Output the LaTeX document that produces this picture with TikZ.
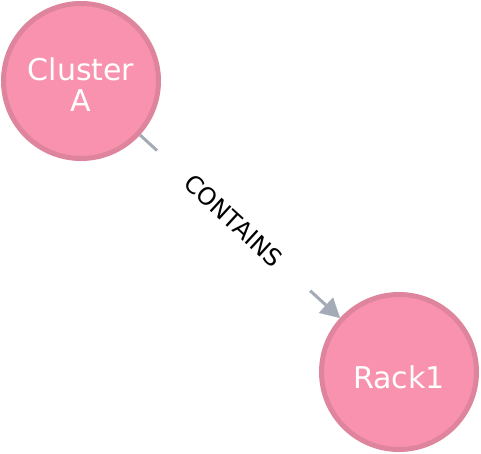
\documentclass[tikz,border=0pt]{standalone}
\usepackage{fontspec}
\setmainfont{DejaVu Sans}
\usetikzlibrary{arrows.meta, positioning}

\definecolor{nodepink}{HTML}{F992AE}
\definecolor{nodering}{HTML}{DF849D}
\definecolor{relgrey}{HTML}{A5ABB6}

\begin{document}
\begin{tikzpicture}[x=1pt, y=-1pt,
    entity/.style = {circle, fill=nodepink, draw=nodering, line width=5pt,
      minimum size=155pt, inner sep=0pt},
    entitytext/.style = {align=center, text=white, inner sep=0pt,
      font=\fontsize{30}{31}\selectfont},
    rel/.style = {color=relgrey, line width=3pt},
    reltip/.style = {-{Triangle[length=19pt, width=21pt, line width=0.1pt, fill=relgrey]}}]
    \useasboundingbox (0,0) rectangle (481,454);

    \node (clusterA) [entity, label={[entitytext, yshift=-4pt]center:Cluster\\A}] at (81,81) {};
    \node (rack1) [entity, label={[entitytext, yshift=-5pt]center:Rack1}] at (399,372) {};

    \path (clusterA) -- node (contains) [sloped, pos=0.468, inner xsep=42pt,
      font=\fontsize{24}{26}\selectfont] {CONTAINS} (rack1);

    \path [rel]
      (clusterA) edge (contains.west)
      (contains.east) edge [reltip] (rack1);
    \end{tikzpicture}
\end{document}
